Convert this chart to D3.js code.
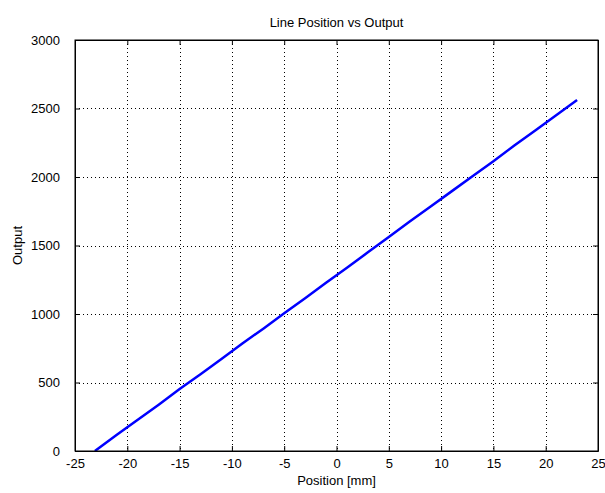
<!DOCTYPE html>
<html>
<head>
<meta charset="utf-8">
<script src="https://cdn.jsdelivr.net/npm/d3@7"></script>
<style>
  body { margin: 0; background: #fff; }
  text { font-family: Arial, "Liberation Sans", sans-serif; }
</style>
</head>
<body>
<div id="chart"></div>
<script>
// values
const positions = [-23.1, -21, -19, -17, -15, -13, -11, -9, -7, -5, -3, -1, 1, 3, 5, 7, 9, 11, 13, 15, 17, 19, 21, 23.0];
const outputs   = [0, 118, 228, 338, 452, 560, 672, 785, 893, 1005, 1115, 1228, 1338, 1450, 1562, 1675, 1785, 1895, 2005, 2115, 2230, 2340, 2450, 2562];
const xTicks = [-25, -20, -15, -10, -5, 0, 5, 10, 15, 20, 25];
const yTicks = [0, 500, 1000, 1500, 2000, 2500, 3000];

let margin = {top: 40, right: 7, bottom: 42, left: 75},
  width = 605 - margin.left - margin.right,
  height = 493 - margin.top - margin.bottom;

let svg = d3.select("#chart")
  .append("svg")
    .attr("width", 605)
    .attr("height", 493);

let main = svg.append("g")
  .attr("transform", "translate(" + margin.left + "," + margin.top + ")");

let xScale = d3.scaleLinear().domain([-25, 25]).range([0, width]);
let yScale = d3.scaleLinear().domain([0, 3000]).range([height, 0]);
let plain = d => String(d);

// grid
main.append("g").selectAll("line")
  .data(xTicks.slice(1, -1))
  .join("line")
    .attr("x1", d => Math.round(xScale(d)) + 0.5).attr("x2", d => Math.round(xScale(d)) + 0.5)
    .attr("y1", 0).attr("y2", height)
    .attr("stroke", "#000").attr("stroke-width", 1)
    .attr("stroke-dasharray", "1,3");
main.append("g").selectAll("line")
  .data(yTicks.slice(1, -1))
  .join("line")
    .attr("y1", d => Math.round(yScale(d)) + 0.5).attr("y2", d => Math.round(yScale(d)) + 0.5)
    .attr("x1", 0).attr("x2", width)
    .attr("stroke", "#000").attr("stroke-width", 1)
    .attr("stroke-dasharray", "1,3");

// data line
main.append("path")
  .datum(positions.map((p, i) => [p, outputs[i]]))
  .attr("fill", "none")
  .attr("stroke", "#0000ff")
  .attr("stroke-width", 2.5)
  .attr("d", d3.line().x(d => xScale(d[0])).y(d => yScale(d[1])));

// axes (ticks inward, on all four sides)
let xAxis = main.append("g").attr("transform", "translate(0," + height + ")")
  .call(d3.axisBottom(xScale).tickValues(xTicks).tickFormat(plain).tickSizeInner(-5).tickSizeOuter(0).tickPadding(8));
let xTop = main.append("g")
  .call(d3.axisTop(xScale).tickValues(xTicks).tickSizeInner(-5).tickSizeOuter(0).tickFormat(""));
let yAxis = main.append("g")
  .call(d3.axisLeft(yScale).tickValues(yTicks).tickFormat(plain).tickSizeInner(-5).tickSizeOuter(0).tickPadding(15));
let yRight = main.append("g").attr("transform", "translate(" + width + ",0)")
  .call(d3.axisRight(yScale).tickValues(yTicks).tickSizeInner(-5).tickSizeOuter(0).tickFormat(""));

[xAxis, xTop, yAxis, yRight].forEach(a => {
  a.selectAll("path, line").attr("stroke", "#000");
  a.selectAll("text").attr("font-size", 13).attr("fill", "#000")
    .attr("font-family", "Arial, 'Liberation Sans', sans-serif");
});

// box
main.append("rect")
  .attr("x", 0).attr("y", 0).attr("width", width).attr("height", height)
  .attr("fill", "none").attr("stroke", "#000").attr("stroke-width", 1);

// labels
svg.append("text")
  .attr("x", margin.left + width / 2).attr("y", 27)
  .attr("text-anchor", "middle").attr("font-size", 13)
  .text("Line Position vs Output");
svg.append("text")
  .attr("x", margin.left + width / 2).attr("y", 485)
  .attr("text-anchor", "middle").attr("font-size", 13)
  .text("Position [mm]");
svg.append("text")
  .attr("transform", "translate(22," + (margin.top + height / 2) + ") rotate(-90)")
  .attr("text-anchor", "middle").attr("font-size", 13)
  .text("Output");
</script>
</body>
</html>
